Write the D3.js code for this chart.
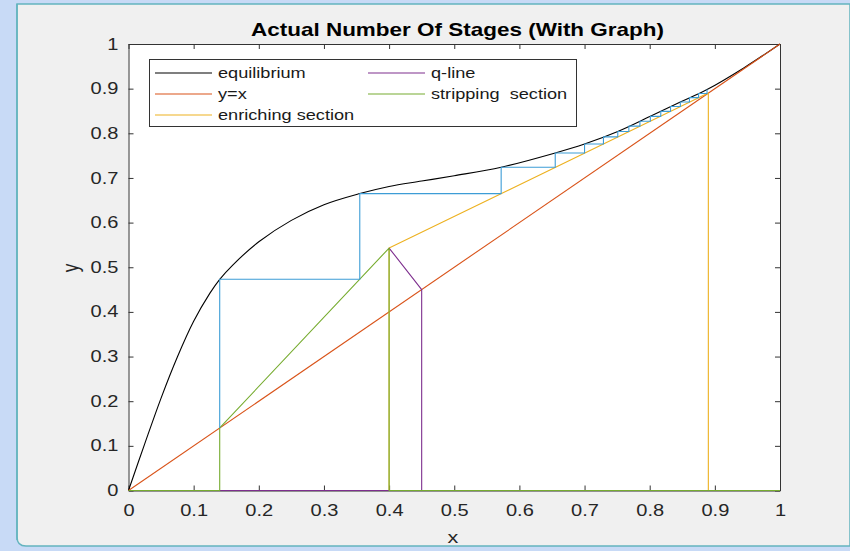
<!DOCTYPE html>
<html><head><meta charset="utf-8">
<script src="https://cdn.jsdelivr.net/npm/d3@7"></script>
<style>html,body{margin:0;padding:0;background:#c8daf6;overflow:hidden}svg{display:block}</style>
</head><body>
<svg id="c" width="850" height="551"></svg>
<script>
// ---- data ----
const xTicks = [0,0.1,0.2,0.3,0.4,0.5,0.6,0.7,0.8,0.9,1];
const xTickLabels = ["0","0.1","0.2","0.3","0.4","0.5","0.6","0.7","0.8","0.9","1"];
const yTicks = [0,0.1,0.2,0.3,0.4,0.5,0.6,0.7,0.8,0.9,1];
const yTickLabels = ["0","0.1","0.2","0.3","0.4","0.5","0.6","0.7","0.8","0.9","1"];

const eqX = [0,0.025,0.05,0.075,0.1,0.125,0.14,0.16,0.2,0.25,0.3,0.355,0.4,0.45,0.5,0.572,0.655,0.7,0.751,0.801,0.847,0.888,0.945,1];
const eqY = [0,0.105,0.207,0.299,0.379,0.442,0.473,0.505,0.557,0.605,0.640,0.665,0.681,0.693,0.705,0.724,0.756,0.776,0.804,0.838,0.870,0.898,0.947,1];

const diagX = [0,1];
const diagY = [0,1];

const enrX = [0.4,0.4,0.89,0.89];
const enrY = [0,0.543,0.89,0];

const qX = [0.14,0.4,null,0.45,0.45,0.4];
const qY = [0,0,null,0,0.45,0.543];

const stripX = [0,0.14,0.14,0.4,0.4,1];
const stripY = [0,0,0.14,0.543,0,0];

const stageBase = 0.14;
const stageX = [0.14,0.355,0.572,0.655,0.700,0.729,0.751,0.768,0.785,0.801,0.817,0.832,0.847,0.861,0.875,0.888];
const stageY = [0.473,0.665,0.724,0.756,0.776,0.792,0.804,0.816,0.827,0.838,0.849,0.860,0.870,0.880,0.889,0.898];

const legendNames = ["equilibrium","y=x","enriching section","q-line","stripping  section"];
const colors = {eq:"#000000", diag:"#D95319", enr:"#EDB120", q:"#7E2F8E", strip:"#77AC30", stage:"#3d9dd6"};
const legendColors = [colors.eq, colors.diag, colors.enr, colors.q, colors.strip];

// ---- layout ----
const SX = 1.27; // horizontal stretch of the screenshot text
const L = 128.5, R = 780, T = 44, B = 490.5;
const svg = d3.select("#c");
const FONT = "'Liberation Sans', Arial, Helvetica, sans-serif";

// window chrome / figure background
svg.append("rect").attr("x",0).attr("y",0).attr("width",850).attr("height",551).attr("fill","#c8daf6");
svg.append("path")
  .attr("d","M17,4 H850 V546 H26 Q17,546 17,537 Z")
  .attr("fill","#f0f0f0").attr("stroke","#63b4bf").attr("stroke-width",1.5);
svg.append("line").attr("x1",17).attr("x2",17).attr("y1",4).attr("y2",540).attr("stroke","#63b4bf").attr("stroke-width",1.5);

const x = d3.scaleLinear().domain([0,1]).range([L,R]);
const y = d3.scaleLinear().domain([0,1]).range([B,T]);

// plot background
svg.append("rect").attr("x",L).attr("y",T).attr("width",R-L).attr("height",B-T).attr("fill","#ffffff");

function stretchText(sel){ sel.attr("transform",`scale(${SX},1)`); }

// axes
const axColor = "#333333";
function styleAxis(g){
  g.select(".domain").attr("stroke",axColor).attr("stroke-width",1);
  g.selectAll(".tick line").attr("stroke",axColor).attr("stroke-width",1);
  g.selectAll(".tick text").attr("fill","#262626").style("font-family",FONT).style("font-size","15.8px");
}
const gx = svg.append("g").attr("transform",`translate(0,${B})`)
  .call(d3.axisBottom(x).tickValues(xTicks).tickFormat((d,i)=>xTickLabels[i]).tickSizeInner(-5).tickSizeOuter(0).tickPadding(14));
styleAxis(gx);
gx.selectAll(".tick text").attr("dy","0.71em").attr("y",14).call(stretchText);

const gy = svg.append("g").attr("transform",`translate(${L},0)`)
  .call(d3.axisLeft(y).tickValues(yTicks).tickFormat((d,i)=>yTickLabels[i]).tickSizeInner(-5).tickSizeOuter(0).tickPadding(10/SX));
styleAxis(gy);
gy.selectAll(".tick text").attr("x",-10/SX).call(stretchText);

const gt = svg.append("g").attr("transform",`translate(0,${T})`)
  .call(d3.axisTop(x).tickValues(xTicks).tickFormat("").tickSizeInner(-5).tickSizeOuter(0));
styleAxis(gt);
const gr = svg.append("g").attr("transform",`translate(${R},0)`)
  .call(d3.axisRight(y).tickValues(yTicks).tickFormat("").tickSizeInner(-5).tickSizeOuter(0));
styleAxis(gr);

// series
const line = d3.line().defined(d=>d[0]!==null).x(d=>x(d[0])).y(d=>y(d[1]));
const zip = (a,b)=>a.map((v,i)=>[v,b[i]]);
function draw(pts,color,curve){
  svg.append("path").datum(pts)
    .attr("d", curve ? line.curve(curve)(pts) : line.curve(d3.curveLinear)(pts))
    .attr("fill","none").attr("stroke",color).attr("stroke-width",1.1).attr("stroke-linejoin","round");
}
draw(zip(eqX,eqY), colors.eq, d3.curveCatmullRom.alpha(0.5));
draw(zip(diagX,diagY), colors.diag);
draw(zip(enrX,enrY), colors.enr);
draw(zip(qX,qY), colors.q);
draw(zip(stripX,stripY), colors.strip);

const stagePts = [[stageX[0], stageBase]];
stageX.forEach((sx,i)=>{
  stagePts.push([sx, stageY[i]]);
  if(i+1<stageX.length) stagePts.push([stageX[i+1], stageY[i]]);
});
draw(stagePts, colors.stage);

// title and labels
function stext(px,py,str,size,weight,anchor,color){
  return svg.append("text").attr("transform",`translate(${px},${py}) scale(${SX},1)`)
    .attr("text-anchor",anchor||"start").style("font-family",FONT).style("font-size",size+"px")
    .style("font-weight",weight||"normal").attr("fill",color||"#262626").text(str);
}
stext(457.5,36,"Actual Number Of Stages (With Graph)",17.7,"bold","middle","#000");
stext(453,543,"x",17,"normal","middle");
svg.append("text").attr("transform",`translate(78,268) rotate(-90) scale(1,${SX})`)
  .attr("text-anchor","middle").style("font-family",FONT).style("font-size","17px").attr("fill","#262626").text("y");

// legend
const lg = svg.append("g");
lg.append("rect").attr("x",149.5).attr("y",59.5).attr("width",427).attr("height",67)
  .attr("fill","#ffffff").attr("stroke","#333333").attr("stroke-width",1);
const legPos = [[155,73],[155,94],[155,115],[368,73],[368,94]];
legendNames.forEach((n,i)=>{
  const [lx,ly]=legPos[i];
  lg.append("line").attr("x1",lx).attr("x2",lx+57).attr("y1",ly).attr("y2",ly)
    .attr("stroke",legendColors[i]).attr("stroke-width",1.2);
  stext(lx+63,ly+5,n,14.3,"normal","start","#1a1a1a").style("white-space","pre");
});
</script>
</body></html>
